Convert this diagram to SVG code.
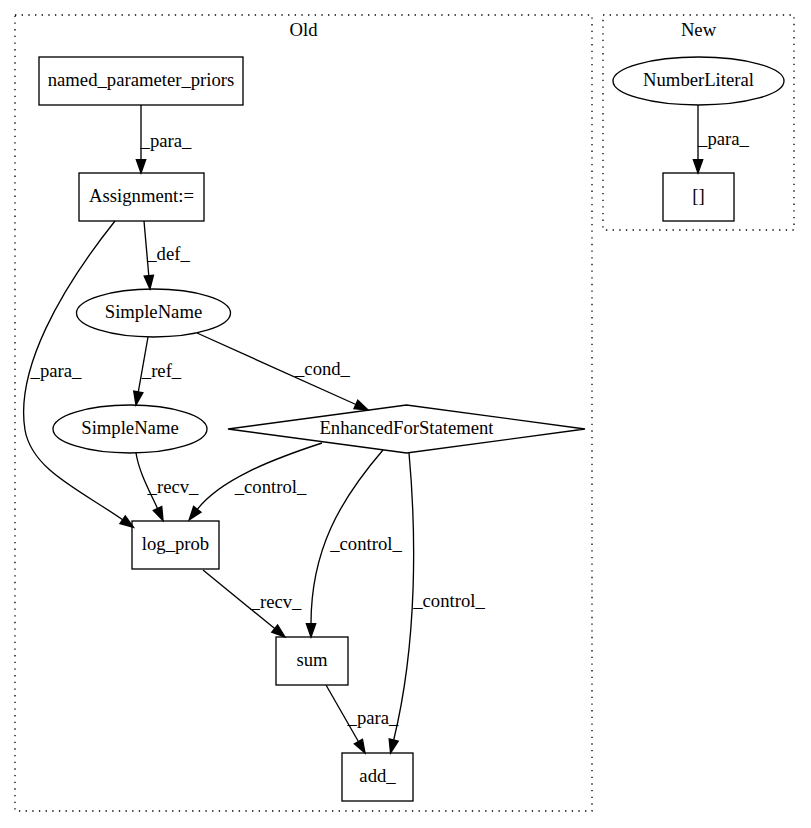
<svg xmlns="http://www.w3.org/2000/svg" width="811" height="828" viewBox="0 0 811 828">
<style>
text{font-family:"Liberation Serif","Times New Roman",serif;font-size:18.67px;fill:#000;text-anchor:middle}
.n{fill:none;stroke:#000;stroke-width:1.33}
.c{fill:none;stroke:#000;stroke-width:1.33;stroke-dasharray:1.33,5.33}
.e{fill:none;stroke:#000;stroke-width:1.33;marker-end:url(#ah)}
</style>
<defs>
<marker id="ah" markerUnits="userSpaceOnUse" markerWidth="15" markerHeight="11" refX="0" refY="4.67" orient="auto" overflow="visible">
<path d="M0,0 L13.3,4.67 L0,9.33 Z" fill="#000" stroke="#000" stroke-width="1.33"/>
</marker>
</defs>
<rect width="811" height="828" fill="#fff"/>
<g id="cluster_old">
<rect class="c" x="15" y="15" width="577" height="796"/>
<text x="303.5" y="36">Old</text>
</g>
<g id="cluster_new">
<rect class="c" x="603" y="15" width="191" height="215"/>
<text x="698.5" y="36">New</text>
</g>
<g id="edges">
<path class="e" d="M141,105 L141,159.7"/>
<text x="166" y="147">_para_</text>
<path class="e" d="M144,221 L148.8,275.7"/>
<text x="168.5" y="260">_def_</text>
<path class="e" d="M148,337 L138.3,391.9"/>
<text x="161.5" y="377">_ref_</text>
<path class="e" d="M197,333 L355.9,404.5"/>
<text x="322.5" y="375">_cond_</text>
<path class="e" d="M115,221 C60,290 15,370 25,430 C32,470 80,490 122.6,519.7"/>
<text x="56" y="377">_para_</text>
<path class="e" d="M136,453 C139,472 149,490 157.5,508.5"/>
<text x="173" y="493">_recv_</text>
<path class="e" d="M322,443 C270,460 220,480 197.3,509.3"/>
<text x="270.5" y="493">_control_</text>
<path class="e" d="M383,450 C340,500 311,550 311,623.7"/>
<text x="366" y="550">_control_</text>
<path class="e" d="M409,453 C416,530 418,640 393.7,740"/>
<text x="449" y="607">_control_</text>
<path class="e" d="M203,570 L274.7,628.6"/>
<text x="276" y="608">_recv_</text>
<path class="e" d="M326,685 L358.4,741.5"/>
<text x="373" y="724">_para_</text>
<path class="e" d="M698,105 L698,159.7"/>
<text x="723.5" y="145">_para_</text>
</g>
<g id="named_parameter_priors">
<rect class="n" x="39" y="57" width="204" height="48"/>
<text x="141" y="86">named_parameter_priors</text>
</g>
<g id="assignment">
<rect class="n" x="79" y="173" width="125" height="48"/>
<text x="141.5" y="202">Assignment:=</text>
</g>
<g id="simplename1">
<ellipse class="n" cx="153.5" cy="313" rx="77" ry="24"/>
<text x="153.5" y="318">SimpleName</text>
</g>
<g id="simplename2">
<ellipse class="n" cx="130" cy="429" rx="77" ry="24"/>
<text x="130" y="434">SimpleName</text>
</g>
<g id="enhancedfor">
<polygon class="n" points="228,429 406.5,405 585,429 406.5,453"/>
<text x="406.5" y="434">EnhancedForStatement</text>
</g>
<g id="log_prob">
<rect class="n" x="132" y="521" width="87" height="48"/>
<text x="175.5" y="550">log_prob</text>
</g>
<g id="sum">
<rect class="n" x="276" y="637" width="72" height="48"/>
<text x="312" y="666">sum</text>
</g>
<g id="add_">
<rect class="n" x="342" y="753" width="71" height="48"/>
<text x="377.5" y="782">add_</text>
</g>
<g id="numberliteral">
<ellipse class="n" cx="698.5" cy="81" rx="85.5" ry="24"/>
<text x="698.5" y="86">NumberLiteral</text>
</g>
<g id="brackets">
<rect class="n" x="663" y="173" width="71" height="48"/>
<text x="698.5" y="202">[]</text>
</g>
</svg>
